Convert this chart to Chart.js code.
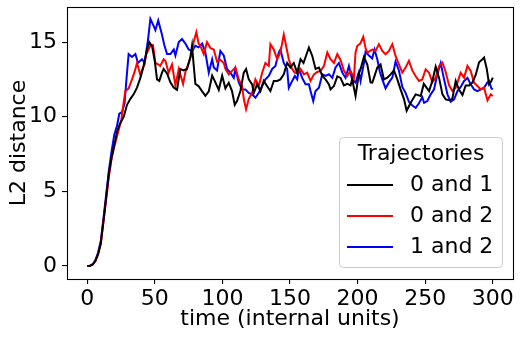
<!DOCTYPE html>
<html><head><meta charset="utf-8">
<script src="https://cdn.jsdelivr.net/npm/chart.js@4"></script>
<style>html,body{margin:0;padding:0;background:#fff}canvas{display:block}</style>
</head><body>
<canvas id="c" width="520" height="337"></canvas>
<script>
// ---- data ----
const xTicks = [0, 50, 100, 150, 200, 250, 300];
const yTicks = [0, 5, 10, 15];
const seriesLabels = ['0 and 1', '0 and 2', '1 and 2'];
const seriesColors = ['#000000', '#ff0000', '#0000ff'];
const legendTitle = 'Trajectories';
const xTitle = 'time (internal units)';
const yTitle = 'L2 distance';

const t01 = [0,2,4,6,8,10,12,14,16,18,20,22,24,27,29.4,31.9,34.3,36.8,39.3,41.7,44.2,45.9,48,50,51.6,53.3,55.3,56.5,59,61.5,63.9,66.4,68.9,71,73.8,76.3,77.5,78.8,80,82.4,85,87.4,89.9,92.4,94.8,97.3,99.8,102.2,104.7,107.1,109.1,110.8,113.3,115.8,117.5,119.5,122,123.2,125.7,128.1,130.6,133,135.5,138,140.5,142.9,145.4,147.9,150.3,152.8,155.3,157.8,160,162.7,164,166.5,168.9,171.4,173.9,176.3,178.8,180,182.5,185,187.4,189.9,192.4,194.8,196,198.5,201,202.2,204.7,207.2,209.6,210.9,212.1,214.6,217,219.5,222,224.4,226.9,229.4,231.8,234.3,236.3,239.3,243,246.7,249,252.9,255.3,257.8,260.3,262.8,265.2,267.7,270.1,272.6,275.1,277.6,280,282.5,285,287.4,289.9,292.4,293.6,295.6,297.3,299,300];
const v01 = [0,0.02,0.1,0.33,0.8,1.5,3.0,4.6,6.2,7.3,8.1,9.0,9.5,10.0,10.8,11.2,11.5,11.95,12.6,13.4,14.5,15.0,14.7,13.7,12.5,12.4,12.95,13.2,12.9,12.3,11.95,11.8,13.2,13.1,13.2,14.0,14.75,13.4,12.2,12.05,11.7,11.4,11.7,12.75,12.3,11.8,12.75,11.9,12.28,11.72,10.8,11.05,11.72,12.95,13.2,12.5,12.17,11.6,12.17,11.72,12.4,12.06,11.72,12.4,12.4,12.5,12.84,13.6,13.3,13.6,12.95,13.85,13.6,14.3,14.63,14.07,13.2,13.3,12.73,12.5,12.17,11.83,12.06,12.7,12.6,12.1,12.2,12.1,12.5,11.39,12.9,13.18,14.0,13.5,12.3,12.28,12.6,13.3,13.5,12.5,12.62,12.84,13.1,12.5,11.83,11.2,10.4,10.94,11.5,11.39,12.2,11.72,12.39,13.35,12.6,11.5,11.16,11.1,11.2,12.4,11.8,11.45,12.1,12.1,12.3,12.8,13.65,13.85,13.96,13.2,12.17,12.39,12.62];

const t02 = [0,2,4,6,8,10,12,14,16,18,20,22,23.2,25.2,28.1,30.6,33.1,35,36.8,39.3,41.7,43.7,46.7,48.6,50.4,52.8,54,56.5,57.8,60.2,62.7,65.2,67.7,70.9,72.6,75,77.5,78.7,80.7,82.4,83.7,86.2,88.6,91.1,93.6,96,98,101,102.2,104.7,107.1,109.6,112.1,114.5,115.8,117.5,119.5,122,124.4,126.9,129.4,131.8,134.3,135.5,138,140.5,142.9,145.4,147.1,149.1,151.6,153.6,155.3,157.8,160.3,162.7,165.2,167.7,170.2,172.6,175.1,177.6,180,182.5,185,187.4,189.9,192.4,194.8,197.3,198.5,199.8,202,204.2,205.9,207.2,210.8,213.3,215.8,218.3,220.7,223.2,225.7,228.1,230.6,233.1,235.5,238,240.5,242.9,245.4,247.9,250.4,252.9,255.3,257.8,260.3,262.8,265.2,267.7,270.2,272.6,275.1,276.3,278.8,281.3,283.7,286.2,288.7,291.1,293.6,296.1,298.6,300];
const v02 = [0,0.02,0.1,0.33,0.8,1.5,3.0,4.5,6.0,7.2,8.0,8.7,9.1,9.8,11.7,11.9,12.5,13.0,13.6,12.8,13.4,14.2,14.75,14.8,13.6,13.5,13.4,13.85,13.75,12.95,13.5,12.1,13.2,12.2,13.0,13.6,14.3,15.0,15.65,14.9,14.75,14.2,15.0,14.6,14.5,13.7,13.85,13.6,13.2,12.84,13.07,13.3,12.5,12.06,11.2,10.5,11.2,11.6,12.5,12.06,12.95,13.6,13.4,14.86,14.5,13.85,14.3,15.5,14.75,13.85,13.2,12.95,12.95,13.2,12.84,12.95,12.4,12.84,13.0,13.07,13.4,14.3,13.85,13.6,14.2,13.8,13.07,12.73,13.07,12.6,14.3,14.75,14.9,15.35,14.6,14.3,14.5,14.4,14.86,14.41,14.18,14.41,14.86,14.07,13.5,12.95,13.29,13.74,13.1,12.73,12.4,12.5,13.18,12.95,12.3,12.62,13.4,13.63,13.0,12.1,11.72,11.94,12.62,12.95,12.62,13.4,13.07,12.28,12.06,11.83,11.94,11.1,11.5,11.38];

const t12 = [0,2,4,6,8,10,12,14,16,18,20,22,23.7,25.7,27.6,29,30.6,33.1,35.6,37.5,40.5,42.5,45,46.7,49,50.4,52.5,55,57,59,61.5,64,65.2,67.7,70.1,72.6,75,77.5,80,82.4,85,87.4,89.9,92.4,93.6,96,98.5,101,103.4,105.9,108.4,109.6,112.1,114.5,117,119.5,121.9,124.4,126.9,129.4,131.8,134.3,136.8,139.2,141.7,142.9,145.4,147.9,149.1,151.6,153.6,155.3,156.6,159,161.5,164,165.2,167.2,168.9,171.4,173.9,176.3,178.8,181.3,183.7,186.2,188.7,191.1,193.6,196,198.5,201,202.2,204.7,205.9,208.4,210.8,212.5,214.6,216.5,218.3,220.7,223.2,225.7,228.1,230.6,233.1,235.5,238,240.5,243,245.4,247.9,249.2,251.6,254.1,256.6,259,261.5,264,266.5,268.9,271.4,273.9,276.3,278.8,281.3,283.7,286.2,288.7,291.1,293.6,296.1,297.3,299,300];
const v12 = [0,0.02,0.1,0.4,0.9,1.7,3.2,4.8,6.4,7.7,8.8,9.4,10.2,10.3,10.9,12.5,14.2,14.0,14.2,13.6,13.85,13.6,15.2,16.55,16.1,15.8,16.45,15.6,14.8,14.2,14.2,14.5,14.1,15.0,15.2,14.9,14.5,14.4,14.75,14.65,14.9,14.3,12.95,13.85,13.3,13.1,14.4,14.1,13.2,12.95,12.6,13.2,12.3,11.83,11.83,11.6,11.5,11.27,11.6,12.06,12.5,12.73,13.2,13.4,14.3,14.5,13.6,13.2,11.94,12.4,12.73,12.5,13.2,12.6,12.17,12.17,11.72,11.05,11.72,11.94,12.84,12.73,12.84,12.6,13.3,13.6,12.95,12.6,13.4,12.5,12.28,13.0,12.4,13.6,14.35,14.1,13.9,14.5,13.85,13.0,12.5,11.9,12.3,12.62,13.7,13.1,12.0,11.6,11.0,10.75,10.6,10.9,11.3,10.93,11.05,11.5,11.84,12.84,13.6,12.5,11.5,11.0,11.16,11.72,12.0,12.4,12.6,12.17,11.83,11.72,11.83,11.95,12.3,12.39,11.9,11.83];

const times = [t01, t02, t12];
const values = [v01, v02, v12];

const FONT = 'DejaVu Sans';

const framePlugin = {
  id: 'frame',
  afterDraw(chart) {
    const {ctx, chartArea: a} = chart;
    ctx.save();
    ctx.strokeStyle = '#000';
    ctx.lineWidth = 1.1;
    ctx.strokeRect(Math.round(a.left) + 0.5, Math.round(a.top) + 0.5,
                   Math.round(a.right - a.left), Math.round(a.bottom - a.top));
    ctx.restore();
  }
};

const legendPlugin = {
  id: 'mplLegend',
  afterDraw(chart) {
    const ctx = chart.ctx;
    const bx = 339.5, by = 137.5, bw = 163, bh = 130, r = 4;
    ctx.save();
    ctx.beginPath();
    ctx.roundRect(bx, by, bw, bh, r);
    ctx.fillStyle = 'rgba(255,255,255,0.8)';
    ctx.fill();
    ctx.strokeStyle = '#cccccc';
    ctx.lineWidth = 1;
    ctx.stroke();
    ctx.fillStyle = '#000';
    ctx.font = '22px "' + FONT + '"';
    ctx.textBaseline = 'middle';
    ctx.textAlign = 'center';
    ctx.fillText(legendTitle, bx + bw / 2, 154);
    ctx.textAlign = 'left';
    chart.data.datasets.forEach((ds, i) => {
      const y = 185 + 31 * i;
      ctx.beginPath();
      ctx.moveTo(347, y);
      ctx.lineTo(393, y);
      ctx.strokeStyle = ds.borderColor;
      ctx.lineWidth = 2;
      ctx.stroke();
      ctx.fillStyle = '#000';
      ctx.fillText(ds.label, 410, y);
    });
    ctx.restore();
  }
};

const tickFont = {family: FONT, size: 22};
const noPad = s => { s.paddingTop = 0; s.paddingBottom = 0; s.paddingLeft = 0; s.paddingRight = 0; };

new Chart(document.getElementById('c'), {
  type: 'line',
  data: {
    datasets: seriesLabels.map((lab, i) => ({
      label: lab,
      data: times[i].map((x, j) => ({x: x, y: values[i][j]})),
      borderColor: seriesColors[i],
      borderWidth: 2,
      pointRadius: 0,
      tension: 0,
      fill: false
    }))
  },
  options: {
    responsive: false,
    animation: false,
    devicePixelRatio: 1,
    layout: {padding: {left: 0, right: 7, top: 7, bottom: 0}},
    plugins: {legend: {display: false}, tooltip: {enabled: false}},
    scales: {
      x: {
        type: 'linear',
        min: -15, max: 315,
        afterBuildTicks: s => { s.ticks = xTicks.map(v => ({value: v})); },
        afterFit: s => { s.height = 58; noPad(s); },
        ticks: {font: tickFont, color: '#000', padding: 2, maxRotation: 0, callback: v => String(v)},
        grid: {drawOnChartArea: false, drawTicks: true, tickLength: 5, color: '#000', lineWidth: 1.1},
        border: {display: false},
        title: {display: true, text: xTitle, font: {family: FONT, size: 22}, color: '#000', padding: {top: 0, bottom: 5}}
      },
      y: {
        type: 'linear',
        min: -0.87, max: 17.35,
        afterBuildTicks: s => { s.ticks = yTicks.map(v => ({value: v})); },
        afterFit: s => { s.width = 67; noPad(s); },
        ticks: {font: tickFont, color: '#000', padding: 5, callback: v => String(v)},
        grid: {drawOnChartArea: false, drawTicks: true, tickLength: 5, color: '#000', lineWidth: 1.1},
        border: {display: false},
        title: {display: true, text: yTitle, font: {family: FONT, size: 22}, color: '#000', padding: {top: 6, bottom: 0}}
      }
    }
  },
  plugins: [framePlugin, legendPlugin]
});
</script>
</body></html>
